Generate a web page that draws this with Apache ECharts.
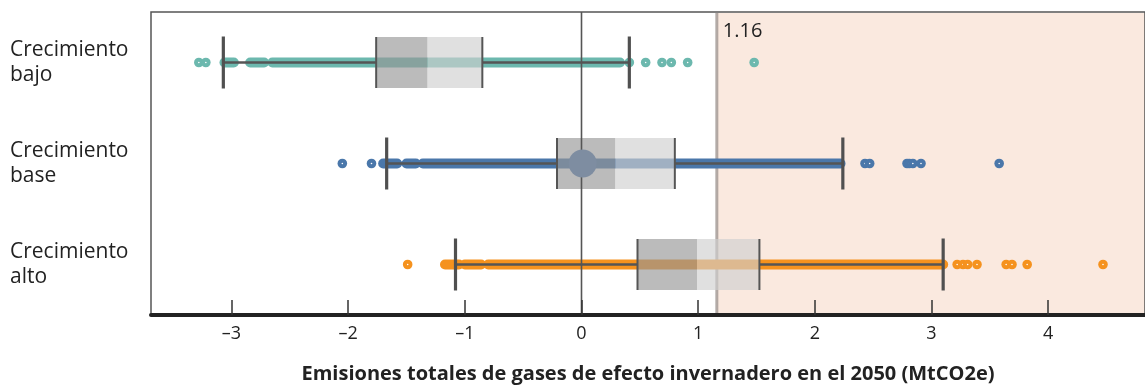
<!DOCTYPE html>
<html>
<head>
<meta charset="utf-8">
<script src="https://cdn.jsdelivr.net/npm/echarts@6/dist/echarts.min.js"></script>
<style>
html,body{margin:0;padding:0;background:#fff;}
#chart{width:1145px;height:387px;}
</style>
</head>
<body>
<div id="chart"></div>
<script>
// ---- data ----
const categories = ['Crecimiento\nbajo', 'Crecimiento\nbase', 'Crecimiento\nalto'];
const whiskerLow  = [-3.07, -1.67, -1.08];
const q1          = [-1.76, -0.21, 0.48];
const median      = [-1.32, 0.29, 0.99];
const q3          = [-0.85, 0.80, 1.525];
const whiskerHigh = [0.41, 2.24, 3.10];
// dense runs of points (start, end) per scenario
const bandsBajo = [[-3.06, -2.98], [-2.84, -2.72], [-2.65, 0.33]];
const bandsBase = [[-1.70, -1.58], [-1.50, -1.42], [-1.36, 2.22]];
const bandsAlto = [[-1.17, -1.05], [-1.00, -0.86], [-0.80, 3.10]];
// isolated points per scenario
const outliersBajo = [-3.28, -3.22, 0.41, 0.55, 0.69, 0.77, 0.91, 1.48];
const outliersBase = [-2.05, -1.80, 2.43, 2.47, 2.79, 2.81, 2.84, 2.91, 3.58];
const outliersAlto = [-1.49, 3.22, 3.27, 3.31, 3.39, 3.64, 3.69, 3.82, 4.47];
const markerBase = 0.01;          // large marker on "base" row
const threshold = 1.16;
const xTicks = [-3, -2, -1, 0, 1, 2, 3, 4];
const xTitle = 'Emisiones totales de gases de efecto invernadero en el 2050 (MtCO2e)';

// ---- styles ----
const rowColors = ['#6cb8ae', '#4a77aa', '#f5921e'];
const FONT = 'Open Sans';
const BOX_HALF = 25.5;

const chart = echarts.init(document.getElementById('chart'), null, {renderer: 'canvas'});

function bandData(bands, idx) { return bands.map(b => [idx, b[0], b[1]]); }
function ptData(arr, idx) { return arr.map(v => [v, idx]); }

const bandSeries = [bandsBajo, bandsBase, bandsAlto].map((bands, i) => ({
  type: 'custom', z: 3, silent: true,
  data: bandData(bands, i),
  encode: {x: [1, 2], y: 0},
  renderItem: function (params, api) {
    const a = api.coord([api.value(1), api.value(0)]);
    const b = api.coord([api.value(2), api.value(0)]);
    return {type: 'line', shape: {x1: a[0], y1: a[1], x2: b[0], y2: b[1]},
      style: {stroke: rowColors[i], lineWidth: 10, lineCap: 'round'}};
  }
}));

const outlierSeries = [outliersBajo, outliersBase, outliersAlto].map((arr, i) => ({
  type: 'custom', z: 4, silent: true,
  data: ptData(arr, i),
  encode: {x: 0, y: 1},
  renderItem: function (params, api) {
    const p = api.coord([api.value(0), api.value(1)]);
    return {type: 'group', children: [
      {type: 'circle', shape: {cx: p[0], cy: p[1], r: 4.8}, style: {fill: rowColors[i]}},
      {type: 'circle', shape: {cx: p[0], cy: p[1], r: 0.8}, style: {fill: '#ffffff'}}
    ]};
  }
}));

const option = {
  animation: false,
  backgroundColor: '#ffffff',
  grid: {left: 151, top: 12, right: -3, bottom: 72, show: true, borderColor: '#555', borderWidth: 1.5, z: 10, backgroundColor: 'transparent'},
  xAxis: {
    type: 'value', min: -3.69, max: 4.83, z: 10,
    axisLine: {show: true, onZero: false, lineStyle: {color: '#222', width: 4}},
    axisTick: {show: true, inside: true, length: 15, customValues: xTicks, lineStyle: {color: '#333', width: 1.5}},
    axisLabel: {customValues: xTicks, margin: 10, fontFamily: FONT, fontSize: 18, color: '#222',
      formatter: v => (v < 0 ? '\u2013' + Math.abs(v) : String(v))},
    splitLine: {show: false}
  },
  yAxis: {
    type: 'category', data: categories, inverse: true,
    axisLine: {show: false}, axisTick: {show: false}, splitLine: {show: false},
    axisLabel: {align: 'left', margin: 141, fontFamily: FONT, fontSize: 21, lineHeight: 25, color: '#222'}
  },
  graphic: [{
    type: 'text', x: 648, y: 374, z: 100,
    style: {text: xTitle, fontFamily: FONT, fontWeight: 'bold', fontSize: 20, fill: '#222', align: 'center', verticalAlign: 'middle'}
  }],
  series: [
    // pink region + threshold line + label
    {
      type: 'custom', z: 1, silent: true,
      data: [[threshold, 0]],
      encode: {x: 0, y: 1},
      renderItem: function (params, api) {
        const cs = params.coordSys;
        const x = api.coord([api.value(0), 0])[0];
        return {type: 'group', children: [
          {type: 'rect', shape: {x: x, y: cs.y + 1, width: cs.x + cs.width - x + 5, height: cs.height - 1},
            style: {fill: '#fae9df'}},
          {type: 'line', shape: {x1: x, y1: cs.y + 1, x2: x, y2: cs.y + cs.height},
            style: {stroke: 'rgba(160,150,146,0.8)', lineWidth: 3}},
          {type: 'text', x: x + 6, y: cs.y + 9,
            style: {text: String(api.value(0)), fontFamily: FONT, fontSize: 20, fill: '#222', align: 'left', verticalAlign: 'top'}}
        ]};
      }
    },
    ...bandSeries,
    ...outlierSeries,
    // boxes + whiskers
    {
      type: 'custom', z: 5, silent: true,
      data: categories.map((c, i) => [i, whiskerLow[i], q1[i], median[i], q3[i], whiskerHigh[i]]),
      encode: {x: [1, 2, 3, 4, 5], y: 0},
      renderItem: function (params, api) {
        const c = api.value(0);
        const lo = api.coord([api.value(1), c]);
        const a = api.coord([api.value(2), c]);
        const m = api.coord([api.value(3), c]);
        const b = api.coord([api.value(4), c]);
        const hi = api.coord([api.value(5), c]);
        const cy = lo[1];
        const dark = '#555';
        return {type: 'group', children: [
          {type: 'rect', shape: {x: a[0], y: cy - BOX_HALF, width: m[0] - a[0], height: 2 * BOX_HALF},
            style: {fill: 'rgba(150,150,150,0.646)'}},
          {type: 'rect', shape: {x: m[0], y: cy - BOX_HALF, width: b[0] - m[0], height: 2 * BOX_HALF},
            style: {fill: 'rgba(207,207,207,0.646)'}},
          {type: 'line', shape: {x1: lo[0], y1: cy, x2: a[0], y2: cy}, style: {stroke: dark, lineWidth: 2.5}},
          {type: 'line', shape: {x1: b[0], y1: cy, x2: hi[0], y2: cy}, style: {stroke: dark, lineWidth: 2.5}},
          {type: 'line', shape: {x1: a[0], y1: cy - BOX_HALF, x2: a[0], y2: cy + BOX_HALF}, style: {stroke: dark, lineWidth: 2}},
          {type: 'line', shape: {x1: b[0], y1: cy - BOX_HALF, x2: b[0], y2: cy + BOX_HALF}, style: {stroke: dark, lineWidth: 2}},
          {type: 'line', shape: {x1: lo[0], y1: cy - BOX_HALF - 0.5, x2: lo[0], y2: cy + BOX_HALF + 0.5}, style: {stroke: '#505050', lineWidth: 3.2}},
          {type: 'line', shape: {x1: hi[0], y1: cy - BOX_HALF - 0.5, x2: hi[0], y2: cy + BOX_HALF + 0.5}, style: {stroke: '#505050', lineWidth: 3.2}}
        ]};
      }
    },
    // zero line
    {
      type: 'custom', z: 6, silent: true,
      data: [[0, 0]],
      encode: {x: 0, y: 1},
      renderItem: function (params, api) {
        const cs = params.coordSys;
        const x = api.coord([api.value(0), 0])[0];
        return {type: 'line', shape: {x1: x, y1: cs.y, x2: x, y2: cs.y + cs.height},
          style: {stroke: '#555', lineWidth: 1.6}};
      }
    },
    // large marker on base row
    {
      type: 'scatter', z: 7, silent: true,
      symbol: 'circle', symbolSize: 28,
      itemStyle: {color: '#7e8da1', opacity: 1},
      data: [[markerBase, 1]]
    }
  ]
};
chart.setOption(option);
</script>
</body>
</html>
